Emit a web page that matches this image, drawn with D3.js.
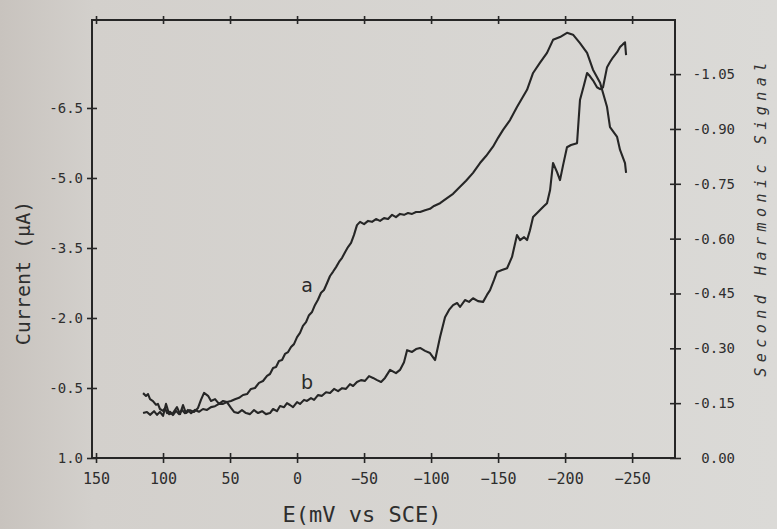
<!DOCTYPE html>
<html><head><meta charset="utf-8">
<script src="https://cdn.jsdelivr.net/npm/d3@7"></script>
<style>
html,body{margin:0;padding:0;background:#d6d4d1;}
svg{display:block;}
</style></head>
<body>
<svg id="chart" width="777" height="529"></svg>
<script>
// ---- data ----
const xTicks = [150, 100, 50, 0, -50, -100, -150, -200, -250];
const leftTicks = [1.0, -0.5, -2.0, -3.5, -5.0, -6.5];
const rightTicks = [0.00, -0.15, -0.30, -0.45, -0.60, -0.75, -0.90, -1.05];

// curve a : current (µA) vs E (mV)
const aPotential = [114.9,112.7,111.2,109.7,107.5,105.2,103.8,102.3,100.0,98.5,97.0,94.8,92.6,90.3,88.1,85.8,83.6,81.4,79.1,76.1,73.2,70.2,67.2,64.2,61.2,58.2,55.2,52.3,49.3,46.3,43.3,40.3,37.3,34.4,31.4,28.4,25.4,22.4,20.2,17.9,15.7,13.5,11.2,9.0,6.7,4.5,2.3,0.0,-2.2,-4.4,-6.7,-8.9,-11.2,-13.4,-15.6,-17.9,-20.1,-22.4,-24.6,-26.8,-29.1,-31.3,-33.6,-35.8,-38.0,-40.3,-42.5,-44.7,-47.0,-50.0,-53.0,-55.9,-58.9,-61.9,-64.9,-67.9,-70.9,-73.8,-76.8,-79.8,-82.8,-85.8,-88.8,-91.8,-95.5,-99.2,-102.2,-106.7,-111.9,-116.4,-121.6,-126.1,-131.3,-136.5,-141.0,-146.2,-150.0,-153.7,-158.9,-164.1,-167.9,-171.6,-176.1,-181.3,-186.5,-191.0,-196.2,-201.4,-205.9,-211.1,-216.4,-220.8,-226.1,-228.3,-231.3,-233.5,-238.8,-241.0,-244.7,-245.5];
const aCurrent = [-0.39,-0.33,-0.37,-0.26,-0.22,-0.14,-0.16,-0.05,-0.01,-0.07,0.04,0.01,0.08,-0.01,0.06,-0.03,0.04,-0.03,0.04,-0.03,0.01,-0.05,-0.03,-0.09,-0.11,-0.16,-0.16,-0.20,-0.22,-0.26,-0.29,-0.35,-0.37,-0.48,-0.50,-0.61,-0.65,-0.76,-0.80,-0.93,-0.95,-1.08,-1.10,-1.23,-1.27,-1.38,-1.44,-1.59,-1.68,-1.83,-1.91,-2.06,-2.13,-2.28,-2.39,-2.54,-2.60,-2.75,-2.90,-2.99,-3.09,-3.20,-3.29,-3.41,-3.52,-3.61,-3.78,-3.99,-4.06,-4.01,-4.08,-4.06,-4.12,-4.08,-4.14,-4.12,-4.21,-4.16,-4.23,-4.21,-4.25,-4.23,-4.27,-4.27,-4.31,-4.34,-4.40,-4.46,-4.57,-4.66,-4.81,-4.94,-5.11,-5.32,-5.47,-5.67,-5.86,-6.03,-6.24,-6.52,-6.71,-6.89,-7.25,-7.47,-7.68,-7.96,-8.02,-8.11,-8.07,-7.89,-7.68,-7.32,-7.04,-6.82,-6.52,-6.09,-5.88,-5.60,-5.32,-5.11];

// curve b : second harmonic signal vs E (mV)
const bPotential = [114.9,112.0,109.7,106.7,104.5,102.3,100.0,97.8,95.5,92.6,89.6,87.3,85.1,82.9,79.9,76.9,73.9,71.7,69.4,66.4,64.2,61.2,58.2,55.2,52.3,49.3,47.0,44.1,41.1,38.1,35.1,32.1,29.1,26.1,23.2,20.2,17.9,15.0,12.7,9.7,7.5,5.3,3.0,0.0,-2.2,-5.2,-7.4,-10.4,-12.7,-15.6,-18.6,-21.6,-24.6,-27.6,-30.6,-33.6,-36.5,-39.5,-41.8,-44.7,-47.7,-50.7,-53.7,-56.7,-59.7,-62.7,-65.6,-69.4,-73.8,-76.8,-79.8,-82.1,-85.8,-88.8,-91.8,-95.5,-99.2,-103.0,-106.7,-110.4,-113.4,-116.4,-119.4,-121.6,-125.3,-128.3,-131.3,-135.0,-138.8,-141.7,-144.0,-147.0,-149.2,-152.9,-156.7,-160.4,-164.1,-166.4,-169.4,-171.6,-173.8,-176.1,-179.1,-181.3,-184.3,-186.5,-188.8,-191.0,-194.0,-196.2,-198.5,-201.4,-204.4,-208.9,-211.1,-214.1,-216.4,-218.6,-220.8,-223.8,-226.1,-228.3,-231.3,-233.5,-235.8,-238.8,-241.0,-243.2,-244.7,-245.5];
const bSignal = [-0.123,-0.126,-0.118,-0.128,-0.118,-0.126,-0.115,-0.148,-0.120,-0.123,-0.139,-0.120,-0.145,-0.123,-0.131,-0.126,-0.137,-0.159,-0.178,-0.170,-0.156,-0.161,-0.148,-0.156,-0.153,-0.137,-0.126,-0.123,-0.131,-0.123,-0.120,-0.131,-0.123,-0.128,-0.120,-0.123,-0.134,-0.128,-0.142,-0.139,-0.150,-0.145,-0.139,-0.153,-0.148,-0.159,-0.156,-0.164,-0.159,-0.172,-0.170,-0.180,-0.178,-0.189,-0.183,-0.191,-0.189,-0.202,-0.197,-0.208,-0.213,-0.211,-0.224,-0.219,-0.213,-0.208,-0.219,-0.241,-0.232,-0.241,-0.262,-0.295,-0.290,-0.298,-0.301,-0.293,-0.287,-0.268,-0.331,-0.385,-0.405,-0.418,-0.424,-0.413,-0.432,-0.427,-0.437,-0.429,-0.427,-0.446,-0.459,-0.487,-0.509,-0.514,-0.519,-0.550,-0.610,-0.596,-0.604,-0.596,-0.623,-0.659,-0.670,-0.678,-0.689,-0.697,-0.733,-0.807,-0.782,-0.760,-0.801,-0.850,-0.856,-0.861,-0.979,-1.020,-1.053,-1.044,-1.033,-1.014,-1.009,-1.014,-1.069,-1.083,-1.096,-1.110,-1.124,-1.132,-1.137,-1.102];

const curveLabels = ["a", "b"];

// ---- layout ----
const L = 92, R = 675, T = 20, B = 458;
const ink = "#262626";
const svg = d3.select("#chart");

const defs = svg.append("defs");
const grad = defs.append("linearGradient").attr("id","paper").attr("x1","0").attr("x2","1").attr("y1","0").attr("y2","0");
grad.append("stop").attr("offset","0").attr("stop-color","#c8c3be");
grad.append("stop").attr("offset","0.12").attr("stop-color","#d3d0cc");
grad.append("stop").attr("offset","1").attr("stop-color","#dbdad7");
svg.append("rect").attr("width",777).attr("height",529).attr("fill","url(#paper)");

const x = d3.scaleLinear().domain([153, -282]).range([L, R]);
const yL = d3.scaleLinear().domain([1.0, -8.385]).range([B, T]);
const yR = d3.scaleLinear().domain([0, -1.198]).range([B, T]);

const mono = "'DejaVu Sans Mono', monospace";

// frame
svg.append("rect").attr("x",L).attr("y",T).attr("width",R-L).attr("height",B-T)
  .attr("fill","none").attr("stroke",ink).attr("stroke-width",2);

function styleAxis(g){
  g.select(".domain").remove();
  g.selectAll(".tick line").attr("stroke",ink).attr("stroke-width",1.6);
  g.selectAll(".tick text").attr("fill","#2e2e2e").style("font-family",mono).style("font-size","14px");
}

// bottom axis
const gx = svg.append("g").attr("transform",`translate(0,${B})`)
  .call(d3.axisBottom(x).tickValues(xTicks).tickSize(5).tickPadding(10).tickFormat(d3.format("d")));
styleAxis(gx);
gx.selectAll(".tick line").attr("y1",-5).attr("y2",5);
gx.selectAll(".tick text").style("font-size","15px");

// top ticks
const gt = svg.append("g").attr("transform",`translate(0,${T})`)
  .call(d3.axisTop(x).tickValues(xTicks).tickSize(4).tickFormat(""));
styleAxis(gt);
gt.selectAll(".tick line").attr("y1",-4).attr("y2",4);

// left axis
const gl = svg.append("g").attr("transform",`translate(${L},0)`)
  .call(d3.axisLeft(yL).tickValues(leftTicks).tickSize(5).tickPadding(4).tickFormat(d3.format(".1f")));
styleAxis(gl);
gl.selectAll(".tick line").attr("x1",-5).attr("x2",5);
gl.selectAll(".tick text").text(d => d3.format(".1f")(d).replace("−","-"));

// right axis
const gr = svg.append("g").attr("transform",`translate(${R},0)`)
  .call(d3.axisRight(yR).tickValues(rightTicks).tickSize(5).tickPadding(4));
styleAxis(gr);
gr.selectAll(".tick line").attr("x1",-5).attr("x2",6);
gr.selectAll(".tick text").attr("x",60).attr("text-anchor","end")
  .text(d => d3.format(".2f")(d).replace("−","-"));

// curves
const lineA = d3.line().x((d,i)=>x(aPotential[i])).y((d,i)=>yL(aCurrent[i]));
const lineB = d3.line().x((d,i)=>x(bPotential[i])).y((d,i)=>yR(bSignal[i]));
svg.append("path").attr("d", lineA(aPotential)).attr("fill","none")
  .attr("stroke",ink).attr("stroke-width",2.1).attr("stroke-linejoin","round");
svg.append("path").attr("d", lineB(bPotential)).attr("fill","none")
  .attr("stroke",ink).attr("stroke-width",2.1).attr("stroke-linejoin","round");

// curve labels
svg.append("text").attr("x",x(-7.4)).attr("y",yL(-2.71)).attr("dy","0.35em")
  .attr("text-anchor","middle").style("font-family","'DejaVu Sans', sans-serif")
  .style("font-size","19px").attr("fill","#2a2a2a").text(curveLabels[0]);
svg.append("text").attr("x",x(-7.4)).attr("y",yR(-0.208)).attr("dy","0.35em")
  .attr("text-anchor","middle").style("font-family","'DejaVu Sans', sans-serif")
  .style("font-size","19px").attr("fill","#2a2a2a").text(curveLabels[1]);

// axis titles
svg.append("text").attr("transform","translate(30,273) rotate(-90)")
  .attr("text-anchor","middle").style("font-family",mono).style("font-size","20px")
  .attr("fill","#2e2e2e").text("Current (µA)");
svg.append("text").attr("x",362).attr("y",522)
  .attr("text-anchor","middle").style("font-family",mono).style("font-size","22px")
  .attr("fill","#2e2e2e").text("E(mV vs SCE)");
svg.append("text").attr("transform","translate(766,217) rotate(-90)")
  .attr("text-anchor","middle").style("font-family",mono).style("font-style","italic")
  .style("font-size","15px").style("letter-spacing","5.5px")
  .attr("fill","#333").text("Second Harmonic Signal");
</script>
</body></html>
